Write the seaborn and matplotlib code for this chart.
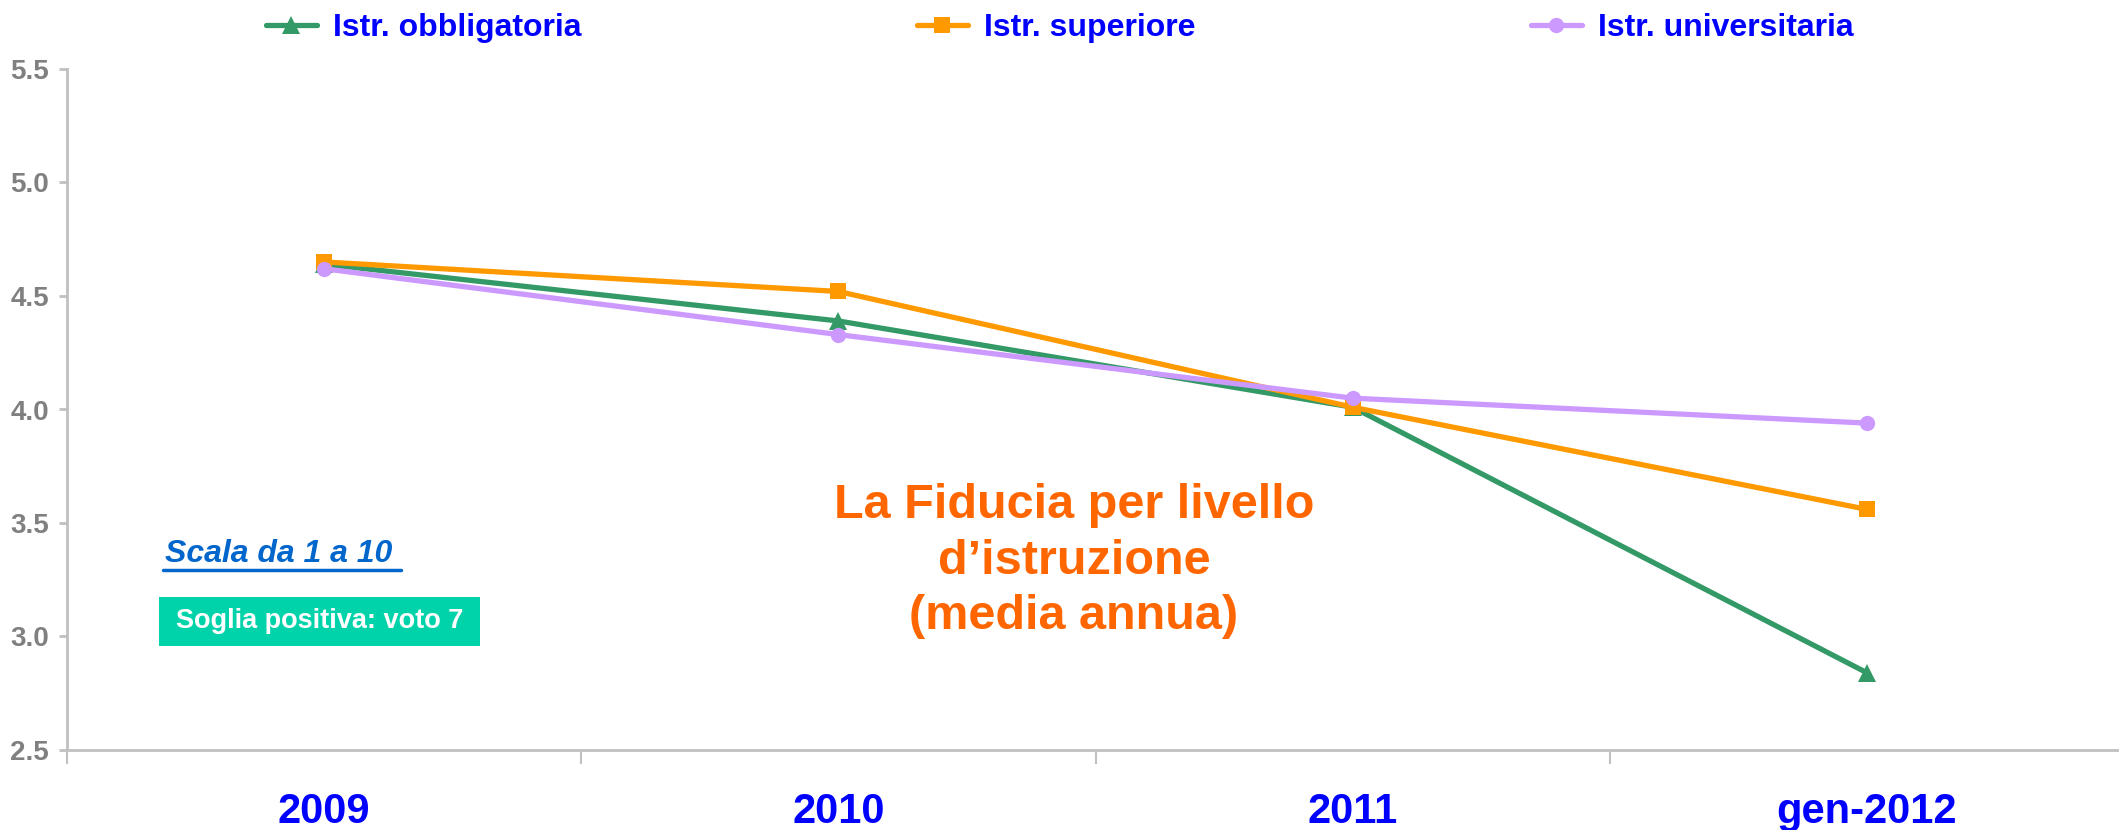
import seaborn as sns
import matplotlib.pyplot as plt
from matplotlib.patches import Rectangle
from matplotlib.ticker import FixedLocator, FormatStrFormatter

# dati
periodi = ["2009", "2010", "2011", "gen-2012"]
obbligatoria = [4.64, 4.39, 4.01, 2.84]
superiore = [4.65, 4.52, 4.01, 3.56]
universitaria = [4.62, 4.33, 4.05, 3.94]

serie = [
    ("Istr. obbligatoria", obbligatoria, "#339966", "^", 13),
    ("Istr. superiore", superiore, "#ff9900", "s", 12),
    ("Istr. universitaria", universitaria, "#cc99ff", "o", 11),
]

sns.set_style("white")
plt.rcParams['font.family'] = ['Liberation Sans', 'DejaVu Sans']

fig = plt.figure(figsize=(21.19, 8.3), dpi=100)
ax = fig.add_axes([67 / 2119, 80 / 830, 2052 / 2119, 681 / 830])

pos = list(range(len(periodi)))
for nome, valori, colore, marker, ms in serie:
    sns.lineplot(x=pos, y=valori, color=colore, marker=marker, markersize=ms,
                 markeredgewidth=0, linewidth=3.8, label=nome, ax=ax)

ax.set_xlim(-0.5, 3.49)
ax.set_ylim(2.5, 5.5)
ax.set_yticks([2.5, 3.0, 3.5, 4.0, 4.5, 5.0, 5.5])
ax.yaxis.set_major_formatter(FormatStrFormatter('%.1f'))
ax.set_xticks(pos)
ax.set_xticklabels(periodi)
ax.xaxis.set_minor_locator(FixedLocator([-0.5, 0.5, 1.5, 2.5]))

for s in ["top", "right"]:
    ax.spines[s].set_visible(False)
for s in ["left", "bottom"]:
    ax.spines[s].set_color("#c0c0c0")
    ax.spines[s].set_linewidth(2)

ax.tick_params(axis='x', which='major', length=0, pad=30, labelsize=30, labelcolor='#0000ff')
ax.tick_params(axis='x', which='minor', length=10, width=1.5, color='#c0c0c0', direction='out')
ax.tick_params(axis='y', length=6, width=2, color='#c0c0c0', pad=7, labelsize=20, labelcolor='#808080')
ax.tick_params(axis='both', bottom=True, left=True, which='both')
for lab in ax.get_xticklabels() + ax.get_yticklabels():
    lab.set_fontweight('bold')

ax.set_xlabel("")
ax.set_ylabel("")

leg = ax.legend(loc='center', bbox_to_anchor=(0.5, 0.966), bbox_transform=fig.transFigure,
                ncol=3, frameon=False, fontsize=23, handlelength=1.6, handletextpad=0.5,
                columnspacing=10.5)
for t in leg.get_texts():
    t.set_color('#0000ff')
    t.set_fontweight('bold')

ax.text(0.4907, 0.277, "La Fiducia per livello\nd\u2019istruzione\n(media annua)",
        transform=ax.transAxes, ha='center', va='center', fontsize=35,
        fontweight='bold', color='#ff6600', linespacing=1.3)

ax.text(0.0478, 0.288, "Scala da 1 a 10", transform=ax.transAxes, ha='left', va='center',
        fontsize=23, fontweight='bold', fontstyle='italic', color='#0066cc')
ax.plot([0.047, 0.163], [0.265, 0.265], transform=ax.transAxes, color='#0066cc', linewidth=2.5)

ax.add_patch(Rectangle((0.0448, 0.1527), 0.1565, 0.072, transform=ax.transAxes,
                       facecolor='#00d2aa', edgecolor='none', zorder=3))
ax.text(0.123, 0.1887, "Soglia positiva: voto 7", transform=ax.transAxes, ha='center', va='center',
        fontsize=19.5, fontweight='bold', color='white', zorder=4)

plt.savefig("out.png", dpi=100)
